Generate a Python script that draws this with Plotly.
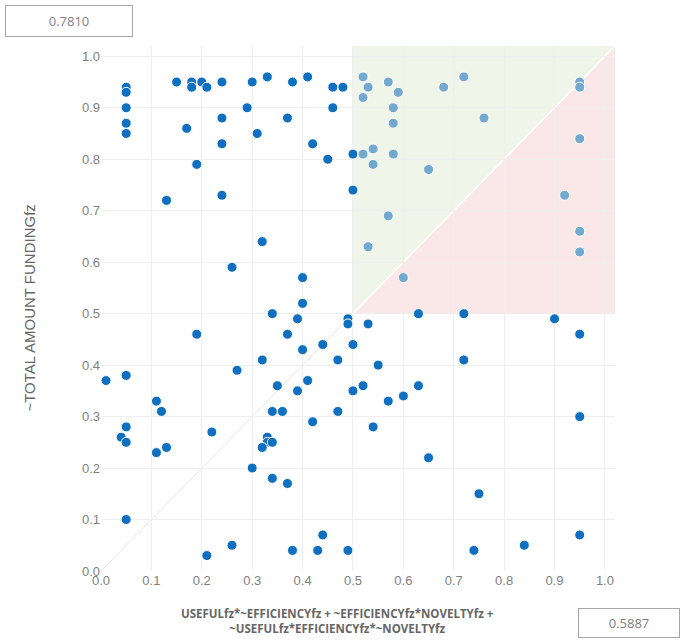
import plotly.graph_objects as go

# Data
x_vals = [
    0.05, 0.05, 0.05, 0.05, 0.05,
    0.15, 0.18, 0.18, 0.20, 0.21, 0.24, 0.30, 0.33, 0.38, 0.41, 0.46, 0.48,
    0.29, 0.46, 0.24, 0.37, 0.17, 0.31, 0.24, 0.42, 0.45, 0.50, 0.19, 0.50,
    0.24, 0.13, 0.32, 0.26, 0.40, 0.40,
    0.52, 0.53, 0.52, 0.57, 0.59, 0.58, 0.58, 0.68, 0.72, 0.76, 0.95, 0.95,
    0.95, 0.52, 0.54, 0.58, 0.54, 0.65, 0.92, 0.57, 0.95, 0.53, 0.95, 0.60,
    0.63, 0.72, 0.90, 0.49, 0.34, 0.49, 0.39, 0.53, 0.19, 0.37, 0.95, 0.44,
    0.50, 0.40, 0.32, 0.47, 0.72, 0.55, 0.27, 0.01, 0.05, 0.41, 0.35, 0.52,
    0.63, 0.39, 0.50, 0.60, 0.57, 0.11, 0.12, 0.34, 0.36, 0.47, 0.95, 0.42,
    0.05, 0.54, 0.22, 0.04, 0.33, 0.05, 0.33, 0.34, 0.32, 0.13, 0.11, 0.65,
    0.30, 0.34, 0.37, 0.75, 0.05, 0.44, 0.95, 0.26, 0.84, 0.21, 0.38, 0.43,
    0.49, 0.74,
]
y_vals = [
    0.94, 0.93, 0.90, 0.87, 0.85,
    0.95, 0.95, 0.94, 0.95, 0.94, 0.95, 0.95, 0.96, 0.95, 0.96, 0.94, 0.94,
    0.90, 0.90, 0.88, 0.88, 0.86, 0.85, 0.83, 0.83, 0.80, 0.81, 0.79, 0.74,
    0.73, 0.72, 0.64, 0.59, 0.57, 0.52,
    0.96, 0.94, 0.92, 0.95, 0.93, 0.90, 0.87, 0.94, 0.96, 0.88, 0.95, 0.94,
    0.84, 0.81, 0.82, 0.81, 0.79, 0.78, 0.73, 0.69, 0.66, 0.63, 0.62, 0.57,
    0.50, 0.50, 0.49, 0.49, 0.50, 0.48, 0.49, 0.48, 0.46, 0.46, 0.46, 0.44,
    0.44, 0.43, 0.41, 0.41, 0.41, 0.40, 0.39, 0.37, 0.38, 0.37, 0.36, 0.36,
    0.36, 0.35, 0.35, 0.34, 0.33, 0.33, 0.31, 0.31, 0.31, 0.31, 0.30, 0.29,
    0.28, 0.28, 0.27, 0.26, 0.26, 0.25, 0.25, 0.25, 0.24, 0.24, 0.23, 0.22,
    0.20, 0.18, 0.17, 0.15, 0.10, 0.07, 0.07, 0.05, 0.05, 0.03, 0.04, 0.04,
    0.04, 0.04,
]
x_title = "USEFULfz*~EFFICIENCYfz + ~EFFICIENCYfz*NOVELTYfz +<br>~USEFULfz*EFFICIENCYfz*~NOVELTYfz"
y_title = "~TOTAL AMOUNT FUNDINGfz"
consistency_label = "0.7810"
coverage_label = "0.5887"
threshold = 0.5
tick_vals = [0.0, 0.1, 0.2, 0.3, 0.4, 0.5, 0.6, 0.7, 0.8, 0.9, 1.0]

DARK = "#0F6FC1"
LIGHT = "#73A8CF"
AX_MAX = 1.02

colors = [LIGHT if (xv > threshold + 0.005 and yv > threshold + 0.005) else DARK
          for xv, yv in zip(x_vals, y_vals)]

fig = go.Figure()
fig.add_trace(go.Scatter(
    x=x_vals, y=y_vals, mode="markers",
    marker=dict(size=10, color=colors, line=dict(color="white", width=1)),
    hoverinfo="x+y", showlegend=False,
))

t = threshold
m = AX_MAX
shapes = [
    dict(type="path", xref="x", yref="y", layer="below",
         path=f"M {t} {t} L {t} {m} L {m} {m} Z",
         fillcolor="#F0F5EA", line=dict(width=0)),
    dict(type="path", xref="x", yref="y", layer="below",
         path=f"M {t} {t} L {m} {m} L {m} {t} Z",
         fillcolor="#FAE7E7", line=dict(width=0)),
    dict(type="line", xref="x", yref="y", layer="below",
         x0=0, y0=0, x1=t, y1=t, line=dict(color="#E4E4E4", width=1)),
    dict(type="line", xref="x", yref="y", layer="below",
         x0=t, y0=t, x1=m, y1=m, line=dict(color="#FFFFFF", width=1.5)),
]

annotations = [
    dict(text=y_title, xref="paper", yref="paper", x=-0.14, y=0.5,
         textangle=-90, showarrow=False, xanchor="center", yanchor="middle",
         font=dict(family="Liberation Sans, Arial", size=15, color="#666666")),
    dict(text="<b>" + x_title + "</b>", xref="paper", yref="paper",
         x=0.461, y=-0.062, showarrow=False, xanchor="center", yanchor="top",
         align="center",
         font=dict(family="Open Sans, Noto Sans", size=11.5, color="#666666")),
    dict(text=consistency_label, xref="paper", yref="paper",
         x=(69 - 101) / 514, y=(571 - 21) / 525, showarrow=False,
         xanchor="center", yanchor="middle", width=120, height=24,
         bordercolor="#A6A6A6", borderwidth=1, borderpad=3, bgcolor="white",
         font=dict(family="Open Sans, Noto Sans", size=13, color="#808080")),
    dict(text=coverage_label, xref="paper", yref="paper",
         x=(629 - 101) / 514, y=(571 - 623) / 525, showarrow=False,
         xanchor="center", yanchor="middle", width=94, height=22,
         bordercolor="#A6A6A6", borderwidth=1, borderpad=3, bgcolor="white",
         font=dict(family="Open Sans, Noto Sans", size=13, color="#808080")),
]

fig.update_layout(
    width=685, height=642,
    margin=dict(l=101, r=70, t=46, b=71),
    plot_bgcolor="white", paper_bgcolor="white",
    shapes=shapes, annotations=annotations,
    xaxis=dict(range=[0, AX_MAX], tickvals=tick_vals, tickformat=".1f",
               showgrid=True, gridcolor="#EFEFEF", gridwidth=1,
               zeroline=False, showline=False, ticks="",
               tickfont=dict(family="Liberation Sans, Arial", size=13, color="#7F7F7F")),
    yaxis=dict(range=[0, AX_MAX], tickvals=tick_vals, tickformat=".1f",
               showgrid=True, gridcolor="#EFEFEF", gridwidth=1,
               zeroline=False, showline=False, ticks="",
               tickfont=dict(family="Liberation Sans, Arial", size=13, color="#7F7F7F")),
)

fig.write_html("out.html", config={"displayModeBar": False},
               post_script="document.body.style.margin='0';document.body.style.overflow='hidden';")
